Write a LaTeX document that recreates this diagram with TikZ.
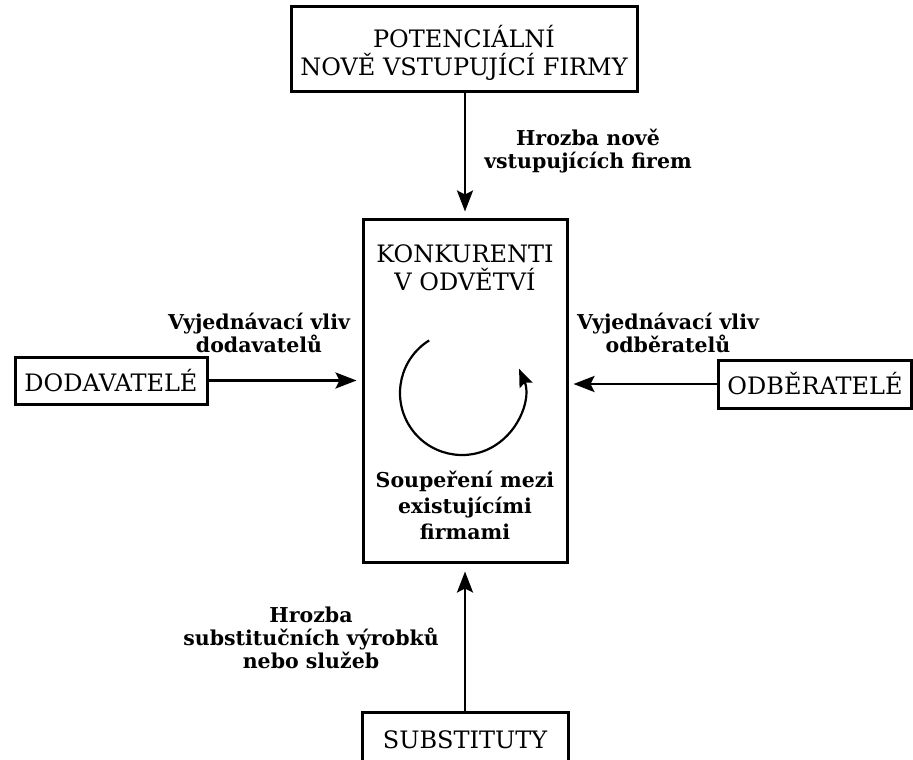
\documentclass[tikz,border=0pt]{standalone}
\usepackage{fontspec}
\setmainfont{DejaVu Serif}
\usetikzlibrary{arrows.meta}
\begin{document}
\begin{tikzpicture}[x=1pt,y=-1pt,
  box/.style={draw, line width=3pt, inner sep=0pt, align=center, font=\fontsize{24}{28}\selectfont},
  capt/.style={align=center, inner sep=0pt, font=\fontsize{24}{28}\selectfont},
  lbl/.style={align=center, inner sep=0pt, font=\bfseries\fontsize{20.5}{23}\selectfont},
  conn/.style={line width=2.6pt, -{Stealth[length=21pt,width=16pt,inset=4pt]}}]
\clip (0,0) rectangle (913,760);
\fill[white] (0,0) rectangle (913,760);
\node[box, minimum width=346pt, minimum height=84pt] (top) at (464,49) {};
\node[capt] (toptext) at (464,53) {POTENCIÁLNÍ\\NOVĚ VSTUPUJÍCÍ FIRMY};
\node[box, minimum width=204pt, minimum height=343pt] (main) at (465,390.5) {};
\node[box, minimum width=192pt, minimum height=47pt] (left) at (111,380.5) {DODAVATELÉ};
\node[box, minimum width=193pt, minimum height=48pt] (right) at (815,384) {ODBĚRATELÉ};
\node[box, minimum width=206pt, minimum height=64pt] (bot) at (465,744) {};
\node[capt] (subst) at (465,740) {SUBSTITUTY};
\node[capt] (konk) at (465,268) {KONKURENTI\\V ODVĚTVÍ};
\node[lbl, font=\bfseries\fontsize{20.5}{26}\selectfont] (soup) at (465,505) {Soupeření mezi\\existujícími\\firmami};
\node[lbl] (lt) at (588,151) {Hrozba nově\\vstupujících firem};
\node[lbl] (ll) at (259,333) {Vyjednávací vliv\\dodavatelů};
\node[lbl] (lr) at (668,333) {Vyjednávací vliv\\odběratelů};
\node[lbl] (lb) at (311,638) {Hrozba\\substitučních výrobků\\nebo služeb};
\coordinate (c) at (462,393);
\draw[line width=2.2pt, -{Stealth[length=18pt,width=14pt,inset=3pt]}] ([shift={(-122:62)}]c) arc[start angle=-122, end angle=-383, radius=62];
\draw[conn, shorten >=6pt] (top.south -| konk.north) -- (main.north);
\draw[conn, shorten >=5pt] (left.east) -- (left.east -| main.west);
\draw[conn, shorten >=5pt] (right.west) -- (right.west -| main.east);
\draw[conn, shorten >=8pt] (bot.north) -- (main.south);
\end{tikzpicture}
\end{document}
